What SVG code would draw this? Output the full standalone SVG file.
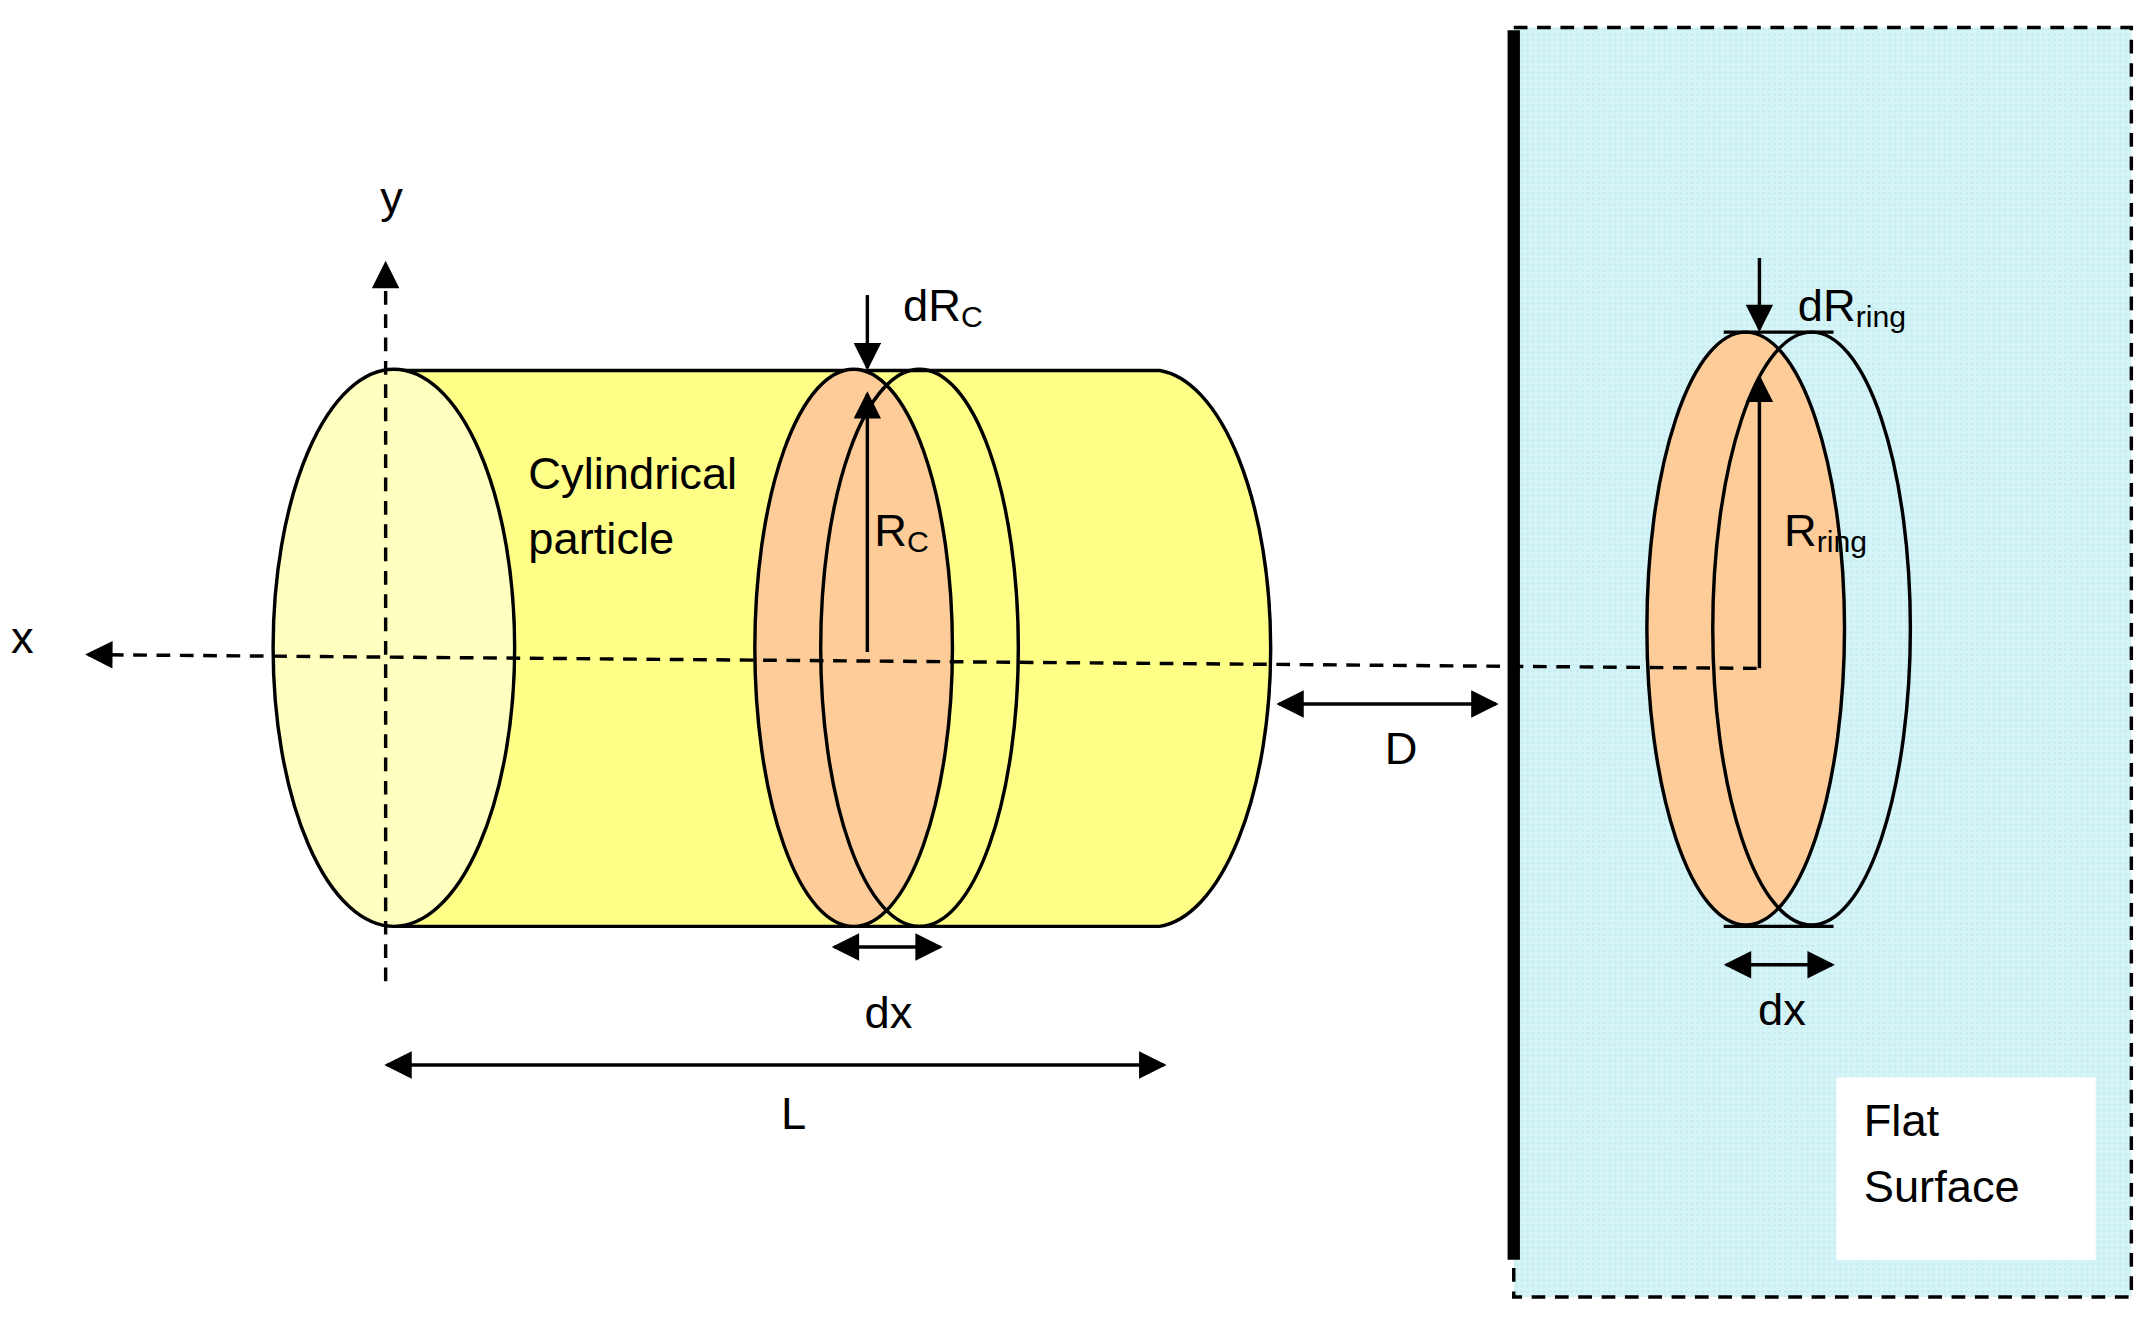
<svg xmlns="http://www.w3.org/2000/svg" width="2152" height="1331" viewBox="0 0 2152 1331">
<style>
.t{font-family:"Liberation Sans",Arial,sans-serif;font-size:33px;fill:#000}
.s{font-size:22px}
.ln{stroke:#000;stroke-width:2.5}
.dash{stroke:#000;stroke-width:2.5;fill:none;stroke-dasharray:10,7}
.ar{stroke:#000;stroke-width:2.5;fill:none;marker-end:url(#ah)}
.ar2{stroke:#000;stroke-width:2.5;fill:none;marker-end:url(#ah);marker-start:url(#ahs)}
</style>
<defs>
<marker id="ah" viewBox="0 0 10 10" refX="9" refY="5" markerWidth="9" markerHeight="8" orient="auto" markerUnits="strokeWidth"><path d="M0,0L10,5L0,10z" fill="#000"/></marker>
<marker id="ahs" viewBox="0 0 10 10" refX="1" refY="5" markerWidth="9" markerHeight="8" orient="auto" markerUnits="strokeWidth"><path d="M10,0L0,5L10,10z" fill="#000"/></marker>
<pattern id="pt" width="4" height="4" patternUnits="userSpaceOnUse"><rect width="4" height="4" fill="#d4f4f7"/><circle cx="1" cy="1" r="0.8" fill="#bfe9ee"/></pattern>
</defs>
<rect width="2152" height="1331" fill="#fff"/>
<g transform="scale(1.3724)">
<g id="surface">
<rect x="1103" y="20" width="450" height="925" style="fill:url(#pt)" stroke="#000" stroke-width="2.5" stroke-dasharray="10,7"/>
<line x1="1103" y1="22" x2="1103" y2="918" stroke="#000" stroke-width="9"/>
<rect x="1338" y="785" width="189" height="133" fill="#fff"/>
<text class="t" x="1358" y="828">Flat</text>
<text class="t" x="1358" y="876">Surface</text>
</g>
<g id="cylinder">
<path d="M287,270H845A87,203 0 0 1 845,675H287Z" style="fill:#ffff88" class="ln"/>
<ellipse cx="287" cy="472" rx="88" ry="203" style="fill:#ffffc0" class="ln"/>
<ellipse cx="622" cy="472" rx="72" ry="203" style="fill:#fdcc98" class="ln"/>
<ellipse cx="670" cy="472" rx="72" ry="203" style="fill:none" class="ln"/>
<text class="t" x="385" y="356">Cylindrical</text>
<text class="t" x="385" y="404">particle</text>
</g>
<g id="ring">
<ellipse cx="1272" cy="458" rx="72" ry="216" style="fill:#fdcc98" class="ln"/>
<ellipse cx="1320" cy="458" rx="72" ry="216" style="fill:none" class="ln"/>
<line x1="1256" y1="242" x2="1336" y2="242" class="ln"/>
<line x1="1256" y1="675" x2="1336" y2="675" class="ln"/>
</g>
<g id="connectors">
<line x1="281" y1="715" x2="281" y2="192" class="dash" style="marker-end:url(#ah)"/>
<line x1="1280" y1="487" x2="64" y2="477" class="dash" style="marker-end:url(#ah)"/>
<line x1="632" y1="215" x2="632" y2="268" class="ar"/>
<line x1="632" y1="475" x2="632" y2="287" class="ar"/>
<line x1="608" y1="690" x2="685" y2="690" class="ar2"/>
<line x1="282" y1="776" x2="848" y2="776" class="ar2"/>
<line x1="932" y1="513" x2="1090" y2="513" class="ar2"/>
<line x1="1282" y1="188" x2="1282" y2="240" class="ar"/>
<line x1="1282" y1="487" x2="1282" y2="275" class="ar"/>
<line x1="1258" y1="703" x2="1335" y2="703" class="ar2"/>
</g>
<g id="labels">
<text class="t" x="277" y="155">y</text>
<text class="t" x="8" y="476">x</text>
<text class="t" x="658" y="234">dR<tspan class="s" dy="4">C</tspan></text>
<text class="t" x="637" y="398">R<tspan class="s" dy="4">C</tspan></text>
<text class="t" x="1310" y="234">dR<tspan class="s" dy="4">ring</tspan></text>
<text class="t" x="1300" y="398">R<tspan class="s" dy="4">ring</tspan></text>
<text class="t" x="630" y="749">dx</text>
<text class="t" x="1281" y="747">dx</text>
<text class="t" x="569" y="823">L</text>
<text class="t" x="1009" y="557">D</text>
</g>
</g>
</svg>
